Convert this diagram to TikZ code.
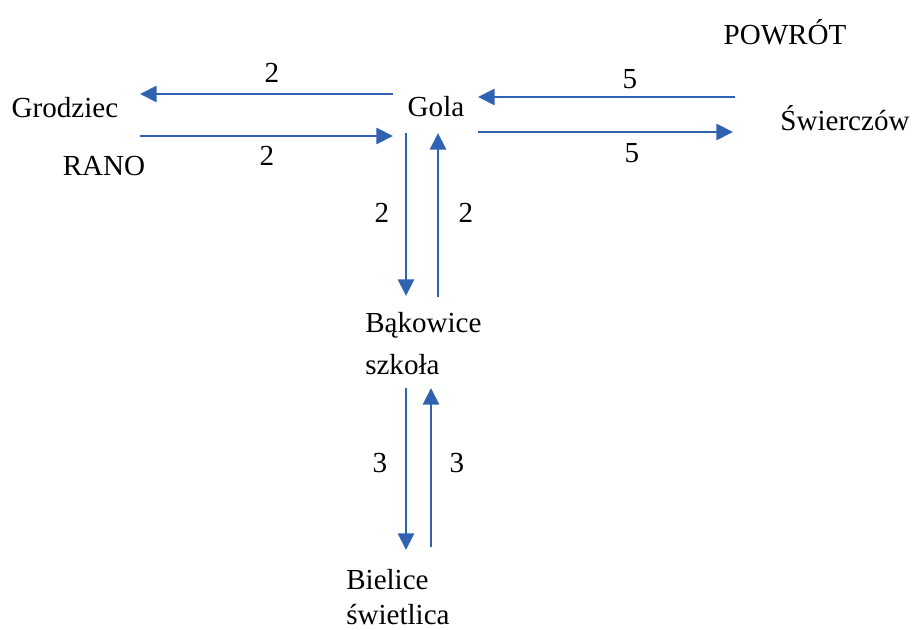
\documentclass[tikz,border=0pt]{standalone}
\usepackage{fontspec}
\setmainfont{Liberation Serif}
\usetikzlibrary{arrows.meta}
\definecolor{arrowblue}{RGB}{47,98,176}
\begin{document}
\begin{tikzpicture}[x=0.01in,y=-0.01in,
  lbl/.style={inner sep=0pt,font=\fontsize{21}{25}\selectfont},
  flow/.style={draw=arrowblue,line width=2.1pt,-{Triangle[length=12pt,width=11.5pt]}}]
\useasboundingbox (0,0) rectangle (912,630);
% place labels
\node[lbl] (grodziec) at (65,108) {Grodziec};
\node[lbl] (rano) at (104,166) {RANO};
\node[lbl] (gola) at (436,107) {Gola};
\node[lbl] (swier) at (845,118) {Świerczów};
\node[lbl] (powrot) at (785,32) {POWRÓT};
\node[lbl,anchor=west] (bak) at (365,325) {Bąkowice};
\node[lbl,anchor=west] (szk) at (365,365) {szkoła};
\node[lbl,anchor=west] (bie) at (346,580) {Bielice};
\node[lbl,anchor=west] (swi) at (346,615) {świetlica};
% arrow endpoints
\coordinate (a1s) at (393,94);  \coordinate (a1e) at (140,94);
\coordinate (a2s) at (140,136); \coordinate (a2e) at (393,136);
\coordinate (a3s) at (735,97);  \coordinate (a3e) at (478,97);
\coordinate (a4s) at (478,132); \coordinate (a4e) at (733,132);
\coordinate (a5s) at (406,133); \coordinate (a5e) at (406,296);
\coordinate (a6s) at (438,297); \coordinate (a6e) at (438,133);
\coordinate (a7s) at (406,388); \coordinate (a7e) at (406,550);
\coordinate (a8s) at (431,547); \coordinate (a8e) at (431,388);
% arrows
\draw[flow] (a1s) -- (a1e);
\draw[flow] (a2s) -- (a2e);
\draw[flow] (a3s) -- (a3e);
\draw[flow] (a4s) -- (a4e);
\draw[flow] (a5s) -- (a5e);
\draw[flow] (a6s) -- (a6e);
\draw[flow] (a7s) -- (a7e);
\draw[flow] (a8s) -- (a8e);
% numbers
\node[lbl] (n1) at (272,73) {2};
\node[lbl] (n2) at (267,156) {2};
\node[lbl] (n3) at (630,79) {5};
\node[lbl] (n4) at (632,153) {5};
\node[lbl] (n5) at (382,213) {2};
\node[lbl] (n6) at (466,213) {2};
\node[lbl] (n7) at (380,463) {3};
\node[lbl] (n8) at (457,463) {3};
\end{tikzpicture}
\end{document}
